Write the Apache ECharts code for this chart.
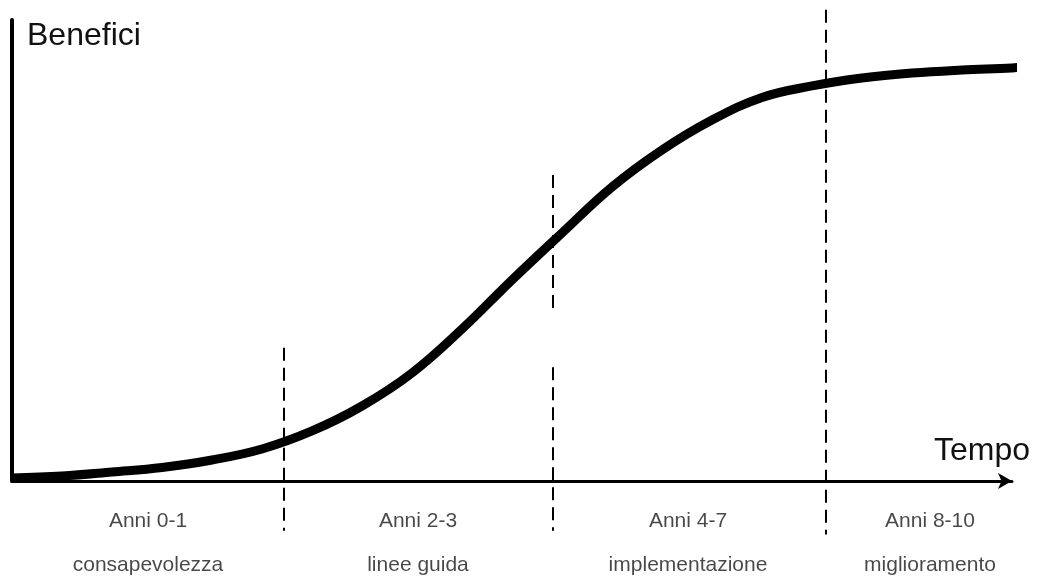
<!DOCTYPE html>
<html>
<head>
<meta charset="utf-8">
<script src="https://cdn.jsdelivr.net/npm/echarts@6/dist/echarts.min.js"></script>
<style>html,body{margin:0;padding:0;background:#fff}#c{width:1038px;height:576px}</style>
</head>
<body>
<div id="c"></div>
<script>
// S-curve of benefits over time (abstract units 0-100)
const curveX = [0, 5, 10, 15, 20, 25, 30, 35, 40, 45, 50, 55, 60, 65, 70, 75, 80, 85, 90, 95, 100, 100.8];
const curveY = [0.65, 1.08, 1.95, 2.93, 4.56, 6.94, 10.85, 16.27, 23.43, 32.97, 43.6, 53.8, 63.77, 71.8, 78.3, 83.2, 85.7, 87.42, 88.5, 89.15, 89.59, 89.8];

// phase boundaries (dashed dividers) and their drawn vertical extents
const dividerX = [27.2, 54.1, 54.1, 81.4];
const dividerTop = [28.9, 66.4, 24.7, 102.2];
const dividerBottom = [-10.8, 36.0, -10.8, -11.6];

// phase labels
const phaseYears = ['Anni 0-1', 'Anni 2-3', 'Anni 4-7', 'Anni 8-10'];
const phaseNames = ['consapevolezza', 'linee guida', 'implementazione', 'miglioramento'];
const phaseCenter = [13.6, 40.6, 67.6, 91.8];
const phaseLabelY = [-13.4, -13.4, -13.4, -13.4];

const yAxisName = 'Benefici';
const xAxisName = 'Tempo';

const chart = echarts.init(document.getElementById('c'), null, {renderer: 'canvas'});
const font = 'Liberation Sans, Arial, sans-serif';

chart.setOption({
  animation: false,
  backgroundColor: '#ffffff',
  grid: {left: 12, right: 26, top: 20, bottom: 95, containLabel: false},
  xAxis: {
    type: 'value', min: 0, max: 100,
    name: xAxisName, nameLocation: 'end', nameGap: 18,
    nameTextStyle: {fontFamily: font, fontSize: 32, color: '#111', align: 'right', verticalAlign: 'bottom', padding: [0, 0, 14, 0]},
    axisLine: {show: true, symbol: ['none', 'arrow'], symbolSize: [12, 14], lineStyle: {color: '#000', width: 3}},
    axisTick: {show: false}, axisLabel: {show: false}, splitLine: {show: false}
  },
  yAxis: {
    type: 'value', min: 0, max: 100,
    name: yAxisName, nameLocation: 'end', nameGap: 0,
    nameTextStyle: {fontFamily: font, fontSize: 32, color: '#111', align: 'left', verticalAlign: 'top', padding: [0, 0, 0, 15]},
    axisLine: {show: true, lineStyle: {color: '#000', width: 4}},
    axisTick: {show: false}, axisLabel: {show: false}, splitLine: {show: false}
  },
  series: [
    {
      type: 'lines', coordinateSystem: 'cartesian2d', clip: false, silent: true, z: 3,
      lineStyle: {color: '#000', width: 2, type: [13, 7], opacity: 1},
      data: dividerX.map((x, i) => ({coords: [[x, dividerTop[i]], [x, dividerBottom[i]]]}))
    },
    {
      type: 'line', smooth: 0.4, symbol: 'none', clip: false, z: 2,
      lineStyle: {color: '#000', width: 9, cap: 'butt'},
      data: curveX.map((x, i) => [x, curveY[i]])
    },
    {
      type: 'scatter', clip: false, silent: true, symbolSize: 1,
      itemStyle: {color: 'rgba(0,0,0,0)'},
      label: {
        show: true, position: 'inside', fontFamily: font, fontSize: 21, color: '#1a1a1a',
        lineHeight: 44, align: 'center', verticalAlign: 'middle',
        formatter: p => phaseYears[p.dataIndex] + '\n' + phaseNames[p.dataIndex]
      },
      data: phaseCenter.map((x, i) => [x, phaseLabelY[i]])
    }
  ]
});
</script>
</body>
</html>
